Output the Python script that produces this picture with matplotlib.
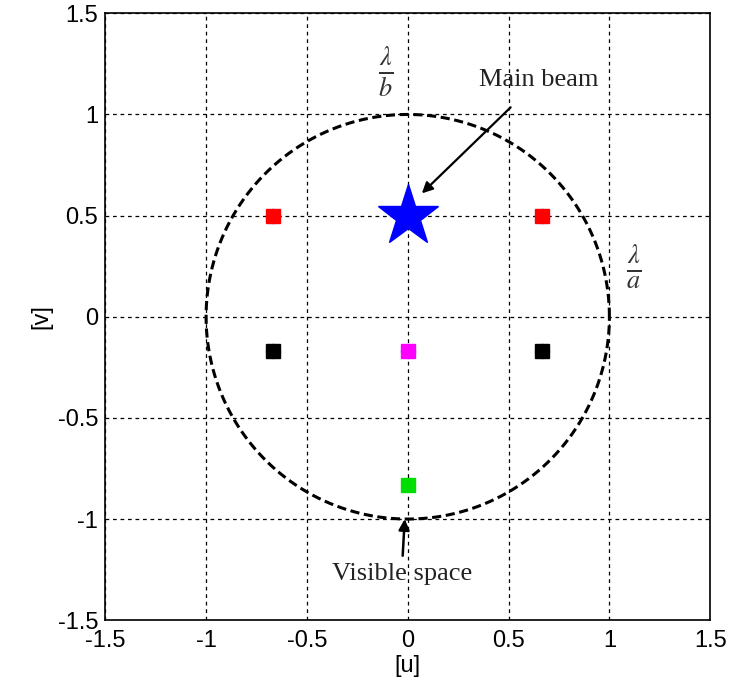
import numpy as np
import matplotlib.pyplot as plt

plt.rcParams['mathtext.fontset'] = 'stix'

# grating lobe positions in (u, v)
red_u = [-0.667, 0.667]
red_v = [0.5, 0.5]
black_u = [-0.667, 0.667]
black_v = [-0.167, -0.167]
magenta_u = [0.0]
magenta_v = [-0.167]
green_u = [0.0]
green_v = [-0.833]
beam_u = [0.0]
beam_v = [0.5]
ticks = [-1.5, -1, -0.5, 0, 0.5, 1, 1.5]
tick_labels = ['-1.5', '-1', '-0.5', '0', '0.5', '1', '1.5']

fig = plt.figure(figsize=(7.36, 7.0), dpi=100)
ax = fig.add_axes([0.143, 0.114, 0.822, 0.867])

# visible space circle
t = np.linspace(0, 2 * np.pi, 400)
ax.plot(np.cos(t), np.sin(t), color='black', lw=2.2, ls=(0, (3, 1.5)))

# blue circles under the squares
for uu, vv in [(red_u, red_v), (black_u, black_v), (magenta_u, magenta_v)]:
    ax.plot(uu, vv, 'o', color='blue', ms=10, ls='none')
ax.plot(red_u, red_v, 's', color='red', mec='red', ms=10, ls='none')
ax.plot(black_u, black_v, 's', color='black', mec='black', ms=10, ls='none')
ax.plot(magenta_u, magenta_v, 's', color='magenta', mec='magenta', ms=10, ls='none')
ax.plot(green_u, green_v, 's', color='#00dd00', mec='#00dd00', ms=10, ls='none')
ax.plot(beam_u, beam_v, '*', color='blue', ms=46, ls='none')

serif = 'Liberation Serif'
ax.annotate('Main beam', xy=(0.07, 0.61), xytext=(0.65, 1.17),
            ha='center', va='center', fontsize=19, family=serif, color='#222222',
            arrowprops=dict(arrowstyle='-|>', color='black', lw=1.6,
                            shrinkA=14, shrinkB=0, mutation_scale=16))
ax.annotate('Visible space', xy=(-0.015, -1.0), xytext=(-0.03, -1.27),
            ha='center', va='center', fontsize=19, family=serif, color='#222222',
            arrowprops=dict(arrowstyle='-|>', color='black', lw=1.8,
                            shrinkA=3, shrinkB=0, mutation_scale=16))
ax.text(-0.11, 1.21, r'$\frac{\lambda}{b}$', fontsize=27, ha='center', va='center',
        color='#333333')
ax.text(1.12, 0.25, r'$\frac{\lambda}{a}$', fontsize=27, ha='center', va='center',
        color='#333333')

ax.set_xlim(-1.5, 1.5)
ax.set_ylim(-1.5, 1.5)
ax.set_xticks(ticks)
ax.set_xticklabels(tick_labels)
ax.set_yticks(ticks)
ax.set_yticklabels(tick_labels)
ax.tick_params(direction='in', labelsize=17, length=0)
ax.tick_params(axis='x', pad=7)
ax.tick_params(axis='y', pad=5)
for lab in ax.get_xticklabels() + ax.get_yticklabels():
    lab.set_family('Liberation Sans')
ax.grid(True, color='black', ls=(0, (3, 3)), lw=0.9)
for s in ax.spines.values():
    s.set_linewidth(1.2)
ax.set_xlabel('[u]', fontsize=17, family='Liberation Sans', labelpad=2)
ax.set_ylabel('[v]', fontsize=17, family='Liberation Sans', labelpad=4)

fig.savefig('out.png', dpi=100)
